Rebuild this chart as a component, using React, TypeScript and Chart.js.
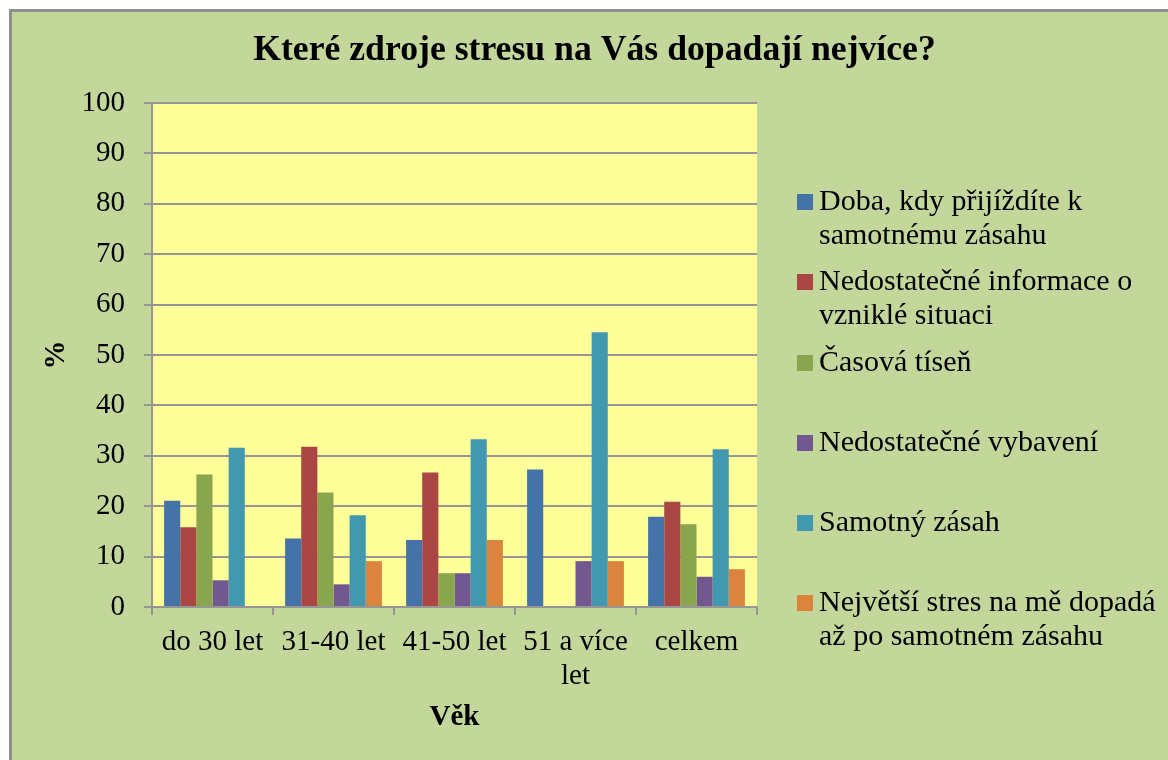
import React, { useEffect, useRef } from 'react';
import { Chart, registerables } from 'chart.js';

Chart.register(...registerables);

const categories: (string | string[])[] = ['do 30 let', '31-40 let', '41-50 let', ['51 a více', 'let'], 'celkem'];

const seriesNames: string[][] = [
  ['Doba, kdy přijíždíte k', 'samotnému zásahu'],
  ['Nedostatečné informace o', 'vzniklé situaci'],
  ['Časová tíseň'],
  ['Nedostatečné vybavení'],
  ['Samotný zásah'],
  ['Největší stres na mě dopadá', 'až po samotném zásahu'],
];

const seriesColors = ['#4572A7', '#AA4643', '#89A54E', '#71588F', '#4198AF', '#DB843D'];

const dobaPrijezdu = [21.1, 13.6, 13.3, 27.3, 17.9];
const nedostatecneInformace = [15.8, 31.8, 26.7, 0, 20.9];
const casovaTisen = [26.3, 22.7, 6.7, 0, 16.4];
const nedostatecneVybaveni = [5.3, 4.5, 6.7, 9.1, 6.0];
const samotnyZasah = [31.6, 18.2, 33.3, 54.5, 31.3];
const poZasahu = [0, 9.1, 13.3, 9.1, 7.5];

const seriesValues = [dobaPrijezdu, nedostatecneInformace, casovaTisen, nedostatecneVybaveni, samotnyZasah, poZasahu];

const yMin = 0;
const yMax = 100;
const yStep = 10;

const FONT = "'Liberation Serif', 'Times New Roman', serif";

const plotBg = {
  id: 'plotBg',
  beforeDraw(chart: any) {
    const { ctx, chartArea } = chart;
    if (!chartArea) return;
    ctx.save();
    ctx.fillStyle = '#FFFF99';
    ctx.fillRect(chartArea.left, chartArea.top, chartArea.right - chartArea.left, chartArea.bottom - chartArea.top);
    ctx.restore();
  },
};

export default function App() {
  const canvasRef = useRef<HTMLCanvasElement | null>(null);

  useEffect(() => {
    if (!canvasRef.current) return;
    Chart.defaults.font.family = FONT;
    const chart = new Chart(canvasRef.current, {
      type: 'bar',
      data: {
        labels: categories as any,
        datasets: seriesValues.map((vals, i) => ({
          label: seriesNames[i].join(' '),
          data: vals,
          backgroundColor: seriesColors[i],
          borderWidth: 0,
          categoryPercentage: 0.8,
          barPercentage: 1.0,
          yAxisID: 'y',
        })),
      },
      options: {
        responsive: false,
        animation: false,
        layout: { padding: { left: 12, right: 0, top: 0, bottom: 0 } },
        plugins: {
          legend: { display: false },
          tooltip: { enabled: false },
          title: {
            display: true,
            text: 'Které zdroje stresu na Vás dopadají nejvíce?',
            color: '#000',
            font: { size: 35.7, weight: 'bold', family: FONT },
            padding: { top: 20.6, bottom: 30.6 },
          },
        },
        scales: {
          x: {
            offset: true,
            grid: {
              display: true,
              drawOnChartArea: false,
              drawTicks: true,
              tickLength: 8,
              color: '#969696',
              lineWidth: 2,
            },
            border: { display: true, color: '#969696', width: 2 },
            ticks: {
              color: '#000',
              font: { size: 29, family: FONT },
              padding: 9.6,
              maxRotation: 0,
              autoSkip: false,
            },
            title: {
              display: true,
              text: 'Věk',
              color: '#000',
              font: { size: 29, weight: 'bold', family: FONT },
              padding: { top: 0, bottom: 24.6 },
            },
            afterFit(scale: any) {
              scale.height = 153;
            },
          },
          y: {
            min: yMin,
            max: yMax,
            ticks: {
              stepSize: yStep,
              color: '#000',
              font: { size: 29, family: FONT },
              padding: 19,
            },
            grid: { color: '#969696', lineWidth: 2, tickLength: 8 },
            border: { display: true, color: '#969696', width: 2 },
            title: {
              display: true,
              text: '%',
              color: '#000',
              font: { size: 29, weight: 'bold', family: FONT },
              padding: { top: 18.6, bottom: 0 },
            },
            afterFit(scale: any) {
              scale.width = 131;
            },
          },
          legendSpace: {
            type: 'linear',
            position: 'right',
            display: true,
            grid: { display: false, drawTicks: false },
            border: { display: false },
            ticks: { display: false },
            afterFit(scale: any) {
              scale.width = 411;
            },
          },
        },
      } as any,
      plugins: [plotBg],
    });
    return () => chart.destroy();
  }, []);

  return (
    <div
      style={{
        position: 'fixed',
        left: 9,
        top: 9,
        width: 1159,
        height: 751,
        background: '#C4D79B',
        boxShadow: 'inset 3px 3px 0 #8f8f8f',
        overflow: 'hidden',
      }}
    >
      <canvas ref={canvasRef} width={1159} height={751} style={{ display: 'block', position: 'absolute', left: 0, top: 0 }} />
      {seriesNames.map((lines, i) => (
        <div
          key={i}
          style={{
            position: 'absolute',
            left: 788,
            top: 173.9 + 80.3 * i,
            fontFamily: FONT,
            fontSize: 30,
            lineHeight: '34px',
            color: '#000',
            whiteSpace: 'nowrap',
          }}
        >
          <span
            style={{
              position: 'absolute',
              left: 0,
              top: 11.1,
              width: 16,
              height: 16,
              background: seriesColors[i],
            }}
          />
          <div style={{ marginLeft: 22 }}>
            {lines.map((l, j) => (
              <div key={j}>{l}</div>
            ))}
          </div>
        </div>
      ))}
    </div>
  );
}
